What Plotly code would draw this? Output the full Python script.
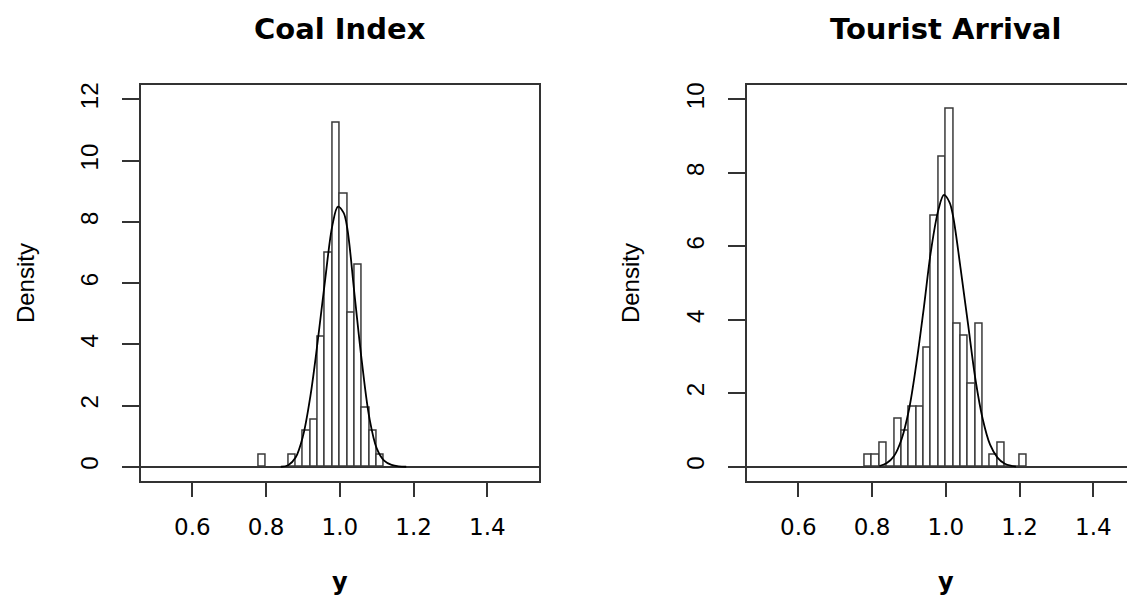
import plotly.graph_objects as go

W, H = 1135, 599
OFF = 8  # page body margin in the browser

# ---------------- data ----------------
bin_width = 0.02

coal_bin_centers = [0.79, 0.87, 0.89, 0.91, 0.93, 0.95, 0.97, 0.99, 1.01, 1.03, 1.05, 1.07, 1.09, 1.11]
coal_density     = [0.39, 0.39, 0.00, 1.16, 1.55, 4.26, 6.98, 11.24, 8.91, 5.04, 6.59, 1.94, 1.16, 0.39]

coal_curve_x = [0.84, 0.86, 0.88, 0.90, 0.92, 0.94, 0.96, 0.98, 0.995, 1.01, 1.02, 1.04, 1.06, 1.08, 1.10, 1.12, 1.14, 1.16, 1.18]
coal_curve_y = [0.00, 0.05, 0.30, 1.00, 2.30, 4.10, 6.10, 7.90, 8.50, 8.30, 7.80, 5.60, 3.40, 1.60, 0.60, 0.20, 0.06, 0.01, 0.00]

tour_bin_centers = [0.79, 0.81, 0.83, 0.85, 0.87, 0.89, 0.91, 0.93, 0.95, 0.97, 0.99, 1.01, 1.03, 1.05, 1.07, 1.09, 1.11, 1.13, 1.15, 1.17, 1.19, 1.21]
tour_density     = [0.32, 0.32, 0.65, 0.00, 1.30, 0.97, 1.62, 1.62, 3.25, 6.82, 8.44, 9.74, 3.90, 3.57, 2.27, 3.90, 0.00, 0.32, 0.65, 0.00, 0.00, 0.32]

tour_curve_x = [0.82, 0.84, 0.86, 0.88, 0.90, 0.92, 0.94, 0.96, 0.98, 0.995, 1.01, 1.02, 1.04, 1.06, 1.08, 1.10, 1.12, 1.14, 1.16, 1.18, 1.19]
tour_curve_y = [0.02, 0.10, 0.30, 0.75, 1.55, 2.80, 4.30, 5.90, 7.00, 7.40, 7.20, 6.80, 5.40, 3.90, 2.40, 1.30, 0.60, 0.25, 0.08, 0.02, 0.00]

titles = ["Coal Index", "Tourist Arrival"]
x_ticks = [0.6, 0.8, 1.0, 1.2, 1.4]
x_ticktext = ["0.6", "0.8", "1.0", "1.2", "1.4"]
coal_y_ticks = [0, 2, 4, 6, 8, 10, 12]
tour_y_ticks = [0, 2, 4, 6, 8, 10]
x_label = "y"
y_label = "Density"

# ---------------- layout geometry (target pixels in the screenshot) ----------------
def px_x(p):
    return (p - OFF) / W

def px_y(p):
    return 1 - (p - OFF) / H

box_top, box_bot = 83, 481
left_l, left_r = 140.7, 539.0
right_l = 746.7
px_per_unit = 368.75
right_visible_max = 0.46 + (W + OFF - right_l) / px_per_unit

AX = "#333333"
BAR_LINE = "#3a3a3a"

fig = go.Figure()

fig.add_trace(go.Bar(x=coal_bin_centers, y=coal_density, width=bin_width,
                     marker=dict(color="white", line=dict(color=BAR_LINE, width=1.5)),
                     xaxis="x", yaxis="y", showlegend=False))
fig.add_trace(go.Scatter(x=coal_curve_x, y=coal_curve_y, mode="lines",
                         line=dict(color="black", width=1.8, shape="spline"),
                         xaxis="x", yaxis="y", showlegend=False))
fig.add_trace(go.Bar(x=tour_bin_centers, y=tour_density, width=bin_width,
                     marker=dict(color="white", line=dict(color=BAR_LINE, width=1.5)),
                     xaxis="x2", yaxis="y2", showlegend=False))
fig.add_trace(go.Scatter(x=tour_curve_x, y=tour_curve_y, mode="lines",
                         line=dict(color="black", width=1.8, shape="spline"),
                         xaxis="x2", yaxis="y2", showlegend=False))

tickfont_x = dict(family="DejaVu Sans", size=23, color="black")
tickfont_y = dict(family="Liberation Sans, Arial", size=24, color="black")

common_x = dict(showgrid=False, zeroline=False, showline=True, linecolor=AX, linewidth=2,
                mirror=True, ticks="outside", ticklen=14, tickwidth=2, tickcolor=AX,
                tickvals=x_ticks, ticktext=x_ticktext, tickfont=tickfont_x,
                ticklabelstandoff=10, fixedrange=True)
common_y = dict(showgrid=False, zeroline=True, zerolinecolor=AX, zerolinewidth=2,
                showline=True, linecolor=AX, linewidth=2,
                ticks="outside", ticklen=17, tickwidth=2, tickcolor=AX,
                tickangle=-90, tickfont=tickfont_y, ticklabelstandoff=14, fixedrange=True)

fig.update_layout(
    width=W, height=H,
    margin=dict(l=0, r=0, t=0, b=0),
    paper_bgcolor="white", plot_bgcolor="white",
    bargap=0,
    xaxis=dict(domain=[px_x(left_l), px_x(left_r)], range=[0.46, 1.54], anchor="y", **common_x),
    yaxis=dict(domain=[px_y(box_bot), px_y(box_top)], range=[-0.48, 12.48], anchor="x",
               tickvals=coal_y_ticks, mirror=True, **common_y),
    xaxis2=dict(domain=[px_x(right_l), 1.0], range=[0.46, right_visible_max], anchor="y2", **common_x),
    yaxis2=dict(domain=[px_y(box_bot), px_y(box_top)], range=[-0.4, 10.4], anchor="x2",
                tickvals=tour_y_ticks, mirror=False, **common_y),
)

annotations = []
centers = [(left_l + left_r) / 2, right_l + 0.54 * px_per_unit]
density_x = [25, 630]
for i in range(2):
    annotations.append(dict(text=titles[i], x=px_x(centers[i]), y=px_y(27), xref="paper", yref="paper",
                            xanchor="center", yanchor="middle", showarrow=False,
                            font=dict(family="DejaVu Sans", size=29, color="black", weight="bold")))
    annotations.append(dict(text=x_label, x=px_x(centers[i]), y=px_y(582), xref="paper", yref="paper",
                            xanchor="center", yanchor="middle", showarrow=False,
                            font=dict(family="DejaVu Sans", size=24, color="black", weight="bold")))
    annotations.append(dict(text=y_label, x=px_x(density_x[i]), y=px_y(282), xref="paper", yref="paper",
                            xanchor="center", yanchor="middle", showarrow=False, textangle=-90,
                            font=dict(family="Liberation Sans, Arial", size=24, color="black")))
fig.update_layout(annotations=annotations)

fig.write_html("out.html")
